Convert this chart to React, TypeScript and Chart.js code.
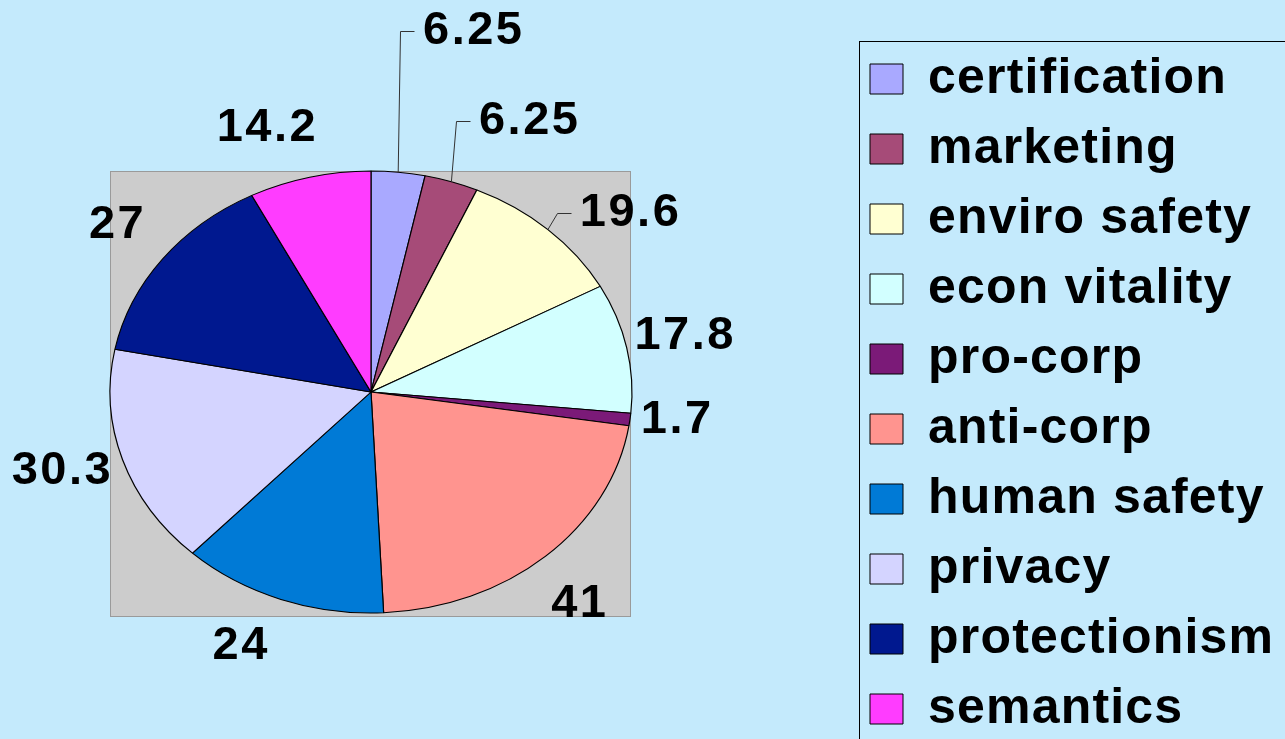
import React, { useEffect, useRef } from 'react';
import { Chart, registerables } from 'chart.js';

Chart.register(...registerables);

// ---------- data ----------
const categories = [
  'certification',
  'marketing',
  'enviro safety',
  'econ vitality',
  'pro-corp',
  'anti-corp',
  'human safety',
  'privacy',
  'protectionism',
  'semantics',
];
const values = [6.25, 6.25, 19.6, 17.8, 1.7, 41, 24, 30.3, 27, 14.2];

// ---------- styles ----------
const sliceColors = [
  '#a9a9ff',
  '#a64b78',
  '#ffffd2',
  '#d2ffff',
  '#7b1a78',
  '#ff948f',
  '#007ad6',
  '#d4d4ff',
  '#00188f',
  '#ff3cff',
];
// label nudges (Excel labels were dragged by hand), leader lines for moved labels
const labelNudgeX = [66, 52, 26, -23, -21, -7, -20, 17, 2, -24];
const labelNudgeY = [-95, -16, 18, -2, -5, 13, 3, -3, -6, -4];
const labelLeader = [true, true, true, false, false, false, false, false, false, false];

const PAGE_BG = '#c4eafc';
const PLOT_BG = '#cccccc';
const PLOT_BORDER = '#9a9a9a';
const FONT_FAMILY = '"Liberation Sans", Arial, Helvetica, sans-serif';
const PIE_RADIUS = 221;
const ELLIPSE_X = 261 / 221;
const LABEL_K = 1.12;
const LABEL_H = 40;
const LEGEND_SPACING = '1.2px';
const LABEL_SPACING = '2.5px';
const LEGEND_WIDTH = 428;

const CANVAS_W = 1300;
const CANVAS_H = 784;

const bgPlugin = {
  id: 'pageBg',
  beforeLayout(chart: any) {
    chart.ctx.letterSpacing = LEGEND_SPACING;
  },
  beforeDraw(chart: any) {
    const ctx = chart.ctx;
    ctx.save();
    ctx.fillStyle = PAGE_BG;
    ctx.fillRect(0, 0, chart.width, chart.height);
    ctx.restore();
    ctx.letterSpacing = LEGEND_SPACING;
  },
};

let ellipseSaved = false;
const ellipsePlugin = {
  id: 'ellipsePie',
  beforeDatasetsDraw(chart: any) {
    const arc = chart.getDatasetMeta(0).data[0];
    if (!arc) return;
    const { x, y, outerRadius } = arc.getProps(['x', 'y', 'outerRadius'], true);
    const rx = outerRadius * ELLIPSE_X;
    const ry = outerRadius;
    const ctx = chart.ctx;
    // plot area
    ctx.save();
    ctx.fillStyle = PLOT_BG;
    ctx.strokeStyle = PLOT_BORDER;
    ctx.lineWidth = 1;
    const left = Math.round(x - rx) + 0.5;
    const top = Math.round(y - ry) + 0.5;
    const w = Math.round(2 * rx) - 2;
    const h = Math.round(2 * ry) + 3;
    ctx.fillRect(left, top, w, h);
    ctx.strokeRect(left, top, w, h);
    ctx.restore();
    // squash circle into ellipse
    ctx.save();
    ctx.translate(x, y);
    ctx.scale(ELLIPSE_X, 1);
    ctx.translate(-x, -y);
    ellipseSaved = true;
  },
  afterDatasetsDraw(chart: any) {
    const ctx = chart.ctx;
    if (ellipseSaved) {
      ctx.restore();
      ellipseSaved = false;
    }
    const meta = chart.getDatasetMeta(0);
    ctx.save();
    ctx.font = `bold 47px ${FONT_FAMILY}`;
    ctx.letterSpacing = LABEL_SPACING;
    ctx.fillStyle = '#000';
    ctx.textAlign = 'center';
    ctx.textBaseline = 'middle';
    meta.data.forEach((arc: any, i: number) => {
      const { x, y, startAngle, endAngle, outerRadius } = arc.getProps(
        ['x', 'y', 'startAngle', 'endAngle', 'outerRadius'],
        true
      );
      const mid = (startAngle + endAngle) / 2;
      const c = Math.cos(mid);
      const s = Math.sin(mid);
      const rx = outerRadius * ELLIPSE_X;
      const ry = outerRadius;
      const text = String(values[i]);
      const w = ctx.measureText(text).width;
      const ax = x + LABEL_K * rx * c + (c * w) / 2 + labelNudgeX[i];
      const ay = y + LABEL_K * ry * s + (s * LABEL_H) / 2 + labelNudgeY[i];
      if (labelLeader[i]) {
        const ex = x + rx * c;
        const ey = y + ry * s;
        const textLeft = ax - w / 2;
        ctx.save();
        ctx.strokeStyle = '#333';
        ctx.lineWidth = 1;
        ctx.beginPath();
        ctx.moveTo(ex, ey);
        ctx.lineTo(Math.round(textLeft - 22) + 0.5, Math.round(ay) + 0.5);
        ctx.lineTo(Math.round(textLeft - 8) + 0.5, Math.round(ay) + 0.5);
        ctx.stroke();
        ctx.restore();
      }
      ctx.fillText(text, ax + 1, ay);
    });
    ctx.restore();
    ctx.letterSpacing = LEGEND_SPACING;
  },
};

const legendFramePlugin = {
  id: 'legendFrame',
  afterDraw(chart: any) {
    const lg = chart.legend;
    if (!lg) return;
    const ctx = chart.ctx;
    ctx.save();
    ctx.strokeStyle = '#000';
    ctx.lineWidth = 1;
    ctx.strokeRect(Math.round(lg.left) + 9.5, Math.round(lg.top) + 11.5, 1000, 1000);
    ctx.restore();
  },
};

export default function App() {
  const ref = useRef<HTMLCanvasElement | null>(null);

  useEffect(() => {
    document.body.style.margin = '0';
    document.body.style.overflow = 'hidden';
    document.body.style.background = PAGE_BG;
    document.documentElement.style.background = PAGE_BG;
    const canvas = ref.current;
    if (!canvas) return;
    const chart = new Chart(canvas, {
      type: 'pie',
      data: {
        labels: categories,
        datasets: [
          {
            data: values,
            backgroundColor: sliceColors,
            borderColor: '#000000',
            borderWidth: 1,
            radius: PIE_RADIUS,
          } as any,
        ],
      },
      options: {
        responsive: false,
        animation: false,
        devicePixelRatio: 1,
        events: [],
        layout: {
          padding: { top: 30, bottom: 30, left: 0, right: CANVAS_W - 850 - LEGEND_WIDTH },
        },
        plugins: {
          tooltip: { enabled: false },
          title: {
            display: true,
            text: ' ',
            position: 'right',
            weight: 100,
            fullSize: true,
            color: 'rgba(0,0,0,0)',
            font: { size: 8, lineHeight: 1 },
            padding: { top: 0, bottom: 100 },
          } as any,
          legend: {
            display: true,
            position: 'right',
            align: 'end',
            maxWidth: LEGEND_WIDTH,
            labels: {
              color: '#000000',
              boxWidth: 33,
              boxHeight: 30,
              padding: 20,
              font: { family: FONT_FAMILY, size: 50, weight: 'bold' },
            },
          } as any,
        },
      },
      plugins: [bgPlugin, ellipsePlugin, legendFramePlugin],
    });
    return () => chart.destroy();
  }, []);

  return (
    <div style={{ width: CANVAS_W, height: CANVAS_H, background: PAGE_BG }}>
      <canvas
        ref={ref}
        width={CANVAS_W}
        height={CANVAS_H}
        style={{ display: 'block', width: CANVAS_W, height: CANVAS_H }}
      />
    </div>
  );
}
